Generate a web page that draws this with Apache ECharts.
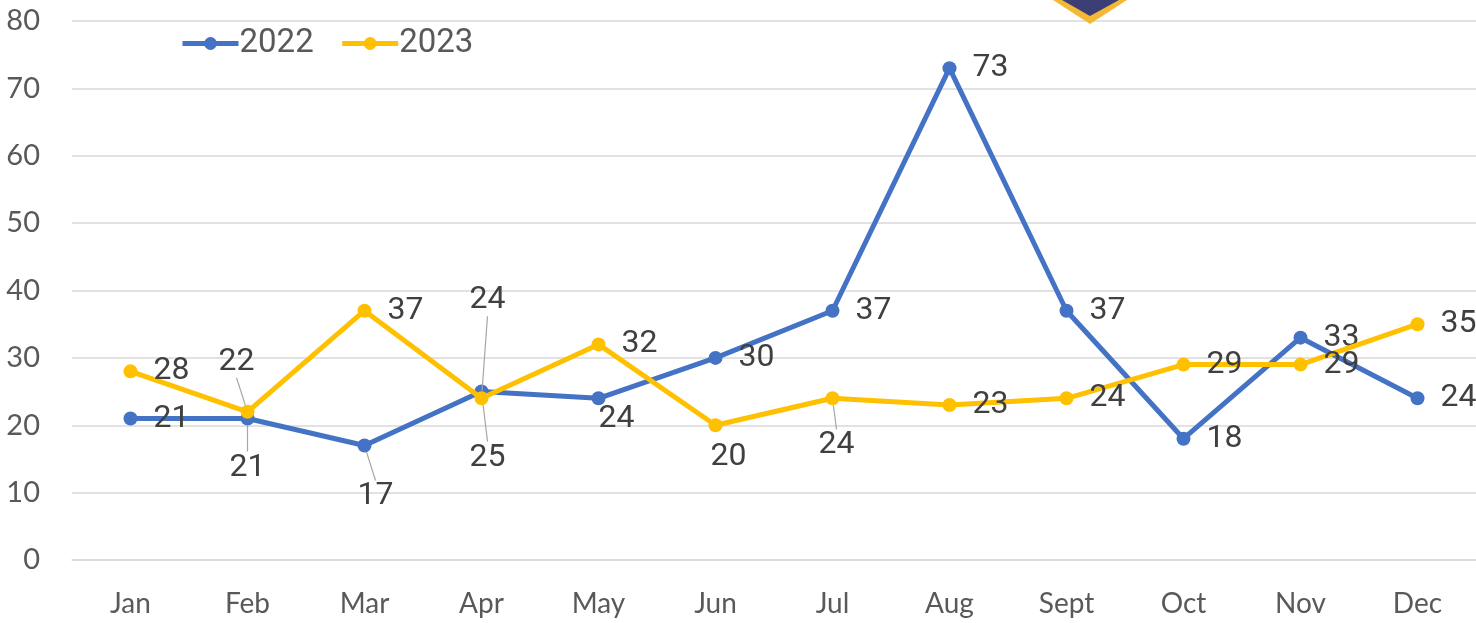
<!DOCTYPE html>
<html>
<head>
<meta charset="utf-8">
<script src="https://cdn.jsdelivr.net/npm/echarts@6/dist/echarts.min.js"></script>
<style>
  html, body { margin: 0; padding: 0; background: #fff; }
  #chart { width: 1476px; height: 623px; }
</style>
</head>
<body>
<div id="chart"></div>
<script>
var months = ['Jan', 'Feb', 'Mar', 'Apr', 'May', 'Jun', 'Jul', 'Aug', 'Sept', 'Oct', 'Nov', 'Dec'];
var sales2022 = [21, 21, 17, 25, 24, 30, 37, 73, 37, 18, 33, 24];
var sales2023 = [28, 22, 37, 24, 32, 20, 24, 23, 24, 29, 29, 35];
var yTicks = [0, 80, 10];

// labels moved off the default right side: [dx, dy, leader line]
var moved = {
  0: { 1: [0, 49, true], 2: [11, 51, true], 3: [6, 66, true], 4: [18, 21, false] },
  1: { 1: [-11, -50, true], 3: [6, -98, true], 5: [13, 32, false], 6: [4, 47, true] }
};

function buildData(values, s) {
  return values.map(function (v, i) {
    var item = { value: v };
    if (moved[s][i] && moved[s][i][2]) {
      item.labelLine = { show: true };
    }
    return item;
  });
}

var chart = echarts.init(document.getElementById('chart'));

chart.setOption({
  animation: false,
  textStyle: { fontFamily: 'Roboto' },
  grid: { left: 72, width: 1408, top: 21, bottom: 63 },
  legend: {
    left: 175,
    top: 22,
    itemWidth: 56,
    itemHeight: 16,
    itemGap: 26,
    lineStyle: { width: 5 },
    textStyle: { fontSize: 33, color: '#595959', fontFamily: 'Roboto', padding: [0, 0, 0, -4] },
    data: ['2022', '2023']
  },
  xAxis: {
    type: 'category',
    data: months,
    axisLine: { lineStyle: { color: '#d9d9d9', width: 1.5 } },
    axisTick: { show: false },
    axisLabel: { fontSize: 28, color: '#595959', margin: 30, fontFamily: 'Lato' }
  },
  yAxis: {
    type: 'value',
    min: yTicks[0],
    max: yTicks[1],
    interval: yTicks[2],
    axisLabel: { fontSize: 29, color: '#595959', margin: 32, fontFamily: 'Lato' },
    splitLine: { lineStyle: { color: '#d9d9d9', width: 1.5 } }
  },
  series: [
    {
      name: '2022',
      type: 'line',
      data: buildData(sales2022, 0),
      symbol: 'circle',
      symbolSize: 14,
      itemStyle: { color: '#4472C4' },
      lineStyle: { width: 5, color: '#4472C4' },
      label: { show: true, position: 'right', distance: 16, fontSize: 32, color: '#404040' },
      labelLine: { show: false, lineStyle: { color: '#a6a6a6', width: 1.2 } },
      labelLayout: function (p) { return placeLabel(p, 0); },
      z: 2
    },
    {
      name: '2023',
      type: 'line',
      data: buildData(sales2023, 1),
      symbol: 'circle',
      symbolSize: 14,
      itemStyle: { color: '#FFC000' },
      lineStyle: { width: 5, color: '#FFC000' },
      label: { show: true, position: 'right', distance: 16, fontSize: 32, color: '#404040' },
      labelLine: { show: false, lineStyle: { color: '#a6a6a6', width: 1.2 } },
      labelLayout: function (p) { return placeLabel(p, 1); },
      z: 3
    }
  ],
  graphic: [
    {
      type: 'polygon',
      shape: { points: [[1053, 0], [1127, 0], [1090, 24]] },
      style: { fill: '#F4B934' },
      z: 10
    },
    {
      type: 'polygon',
      shape: { points: [[1062, 0], [1119, 0], [1090, 16]] },
      style: { fill: '#3C3F73' },
      z: 11
    }
  ]
});

function placeLabel(p, s) {
  var m = moved[s][p.dataIndex];
  if (!m) return {};
  return {
    x: p.rect.x + p.rect.width / 2 + m[0],
    y: p.rect.y + p.rect.height / 2 + m[1],
    align: 'center',
    verticalAlign: 'middle'
  };
}
</script>
</body>
</html>
